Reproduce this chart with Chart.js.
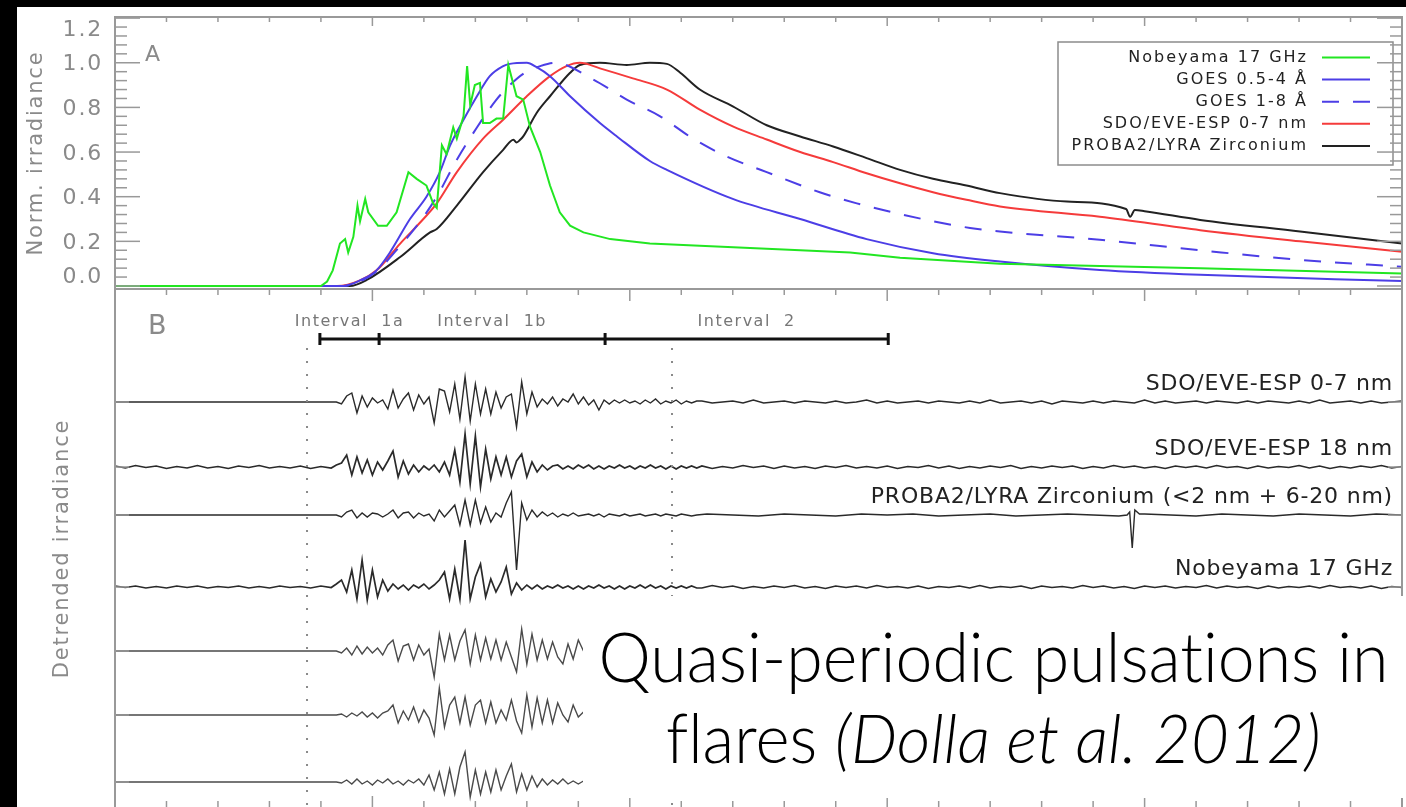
<!DOCTYPE html>
<html>
<head>
<meta charset="utf-8">
<script src="https://cdn.jsdelivr.net/npm/chart.js@4.4.1/dist/chart.umd.min.js"></script>
<style>
  html, body { margin: 0; padding: 0; background: #000; width: 1406px; height: 807px; overflow: hidden; }
  #sheet { position: absolute; left: 17px; top: 7px; width: 1389px; height: 800px; background: #fff; }
  canvas { position: absolute; left: 0; }
  #panelA { top: 0; }
  #panelB { top: 280px; }
  #caption { position: absolute; left: 583px; top: 596px; width: 823px; height: 202px; background: #fff;
             font-family: Lato, 'Open Sans', sans-serif; font-weight: 300; color: #000; z-index: 5;
             font-variant-ligatures: none; font-feature-settings: "liga" 0, "dlig" 0; }
  #caption .line { position: absolute; white-space: nowrap; font-size: 68px; line-height: 1; transform-origin: center; }
  #caption .probe { display: inline-block; width: 0; height: 0; vertical-align: baseline; }
</style>
</head>
<body>
<div id="sheet"></div>
<canvas id="panelA" width="1406" height="300"></canvas>
<canvas id="panelB" width="1406" height="550"></canvas>
<div id="caption">
  <div class="line" id="cap1">Quasi-periodic pulsations in<span class="probe"></span></div>
  <div class="line" id="cap2">flares <i>(Dolla et al. 2012)</i><span class="probe"></span></div>
</div>
<script>
// ---------------- Panel A: normalised irradiance, time in minutes ----------------
const nobeyama17 = [[0,0],[4.0,0],[4.12,0.02],[4.23,0.07],[4.37,0.19],[4.47,0.21],[4.53,0.15],[4.63,0.22],[4.71,0.36],
  [4.76,0.29],[4.86,0.39],[4.92,0.33],[5.11,0.27],[5.28,0.27],[5.47,0.33],[5.70,0.51],[5.86,0.48],[6.05,0.45],
  [6.18,0.37],[6.25,0.35],[6.35,0.63],[6.44,0.59],[6.57,0.71],[6.64,0.66],[6.77,0.76],[6.84,0.985],[6.90,0.81],
  [6.99,0.90],[7.09,0.91],[7.15,0.73],[7.28,0.73],[7.41,0.75],[7.54,0.75],[7.64,0.99],[7.80,0.85],[7.93,0.835],
  [8.06,0.715],[8.26,0.60],[8.45,0.45],[8.64,0.33],[8.84,0.27],[9.10,0.24],[9.62,0.21],[10.39,0.19],[11.36,0.18],
  [13.31,0.16],[14.28,0.15],[15.25,0.126],[17.19,0.10],[21.08,0.08],[25,0.056]];
const goesShort = [[0,0],[4.43,0],[4.76,0.025],[5.08,0.07],[5.34,0.15],[5.73,0.30],[6.05,0.40],[6.31,0.51],[6.51,0.63],
  [6.77,0.745],[7.03,0.85],[7.28,0.94],[7.54,0.985],[7.67,0.995],[8.0,1.0],[8.19,0.98],[8.45,0.94],[8.84,0.85],
  [9.42,0.73],[9.75,0.67],[10.39,0.56],[10.72,0.52],[12.0,0.39],[13.31,0.30],[14.60,0.21],[15.89,0.147],
  [17.19,0.11],[19.13,0.072],[21.08,0.05],[25,0.022]];
const goesLong = [[0,0],[4.43,0],[4.76,0.02],[5.08,0.065],[5.54,0.18],[5.93,0.29],[6.25,0.40],[6.64,0.566],[7.03,0.71],
  [7.41,0.835],[7.67,0.90],[7.96,0.955],[8.26,0.985],[8.55,1.0],[9.29,0.925],[9.94,0.835],[10.59,0.76],[11.23,0.66],
  [11.88,0.58],[12.66,0.51],[13.69,0.42],[14.41,0.37],[15.11,0.33],[15.89,0.29],[16.61,0.26],[17.19,0.244],
  [19.13,0.207],[21.08,0.16],[23.02,0.117],[25,0.086]];
const eveEsp07 = [[0,0],[4.31,0],[4.76,0.025],[5.08,0.07],[5.54,0.19],[5.99,0.30],[6.25,0.37],[6.64,0.51],[7.15,0.66],
  [7.54,0.745],[8.0,0.85],[8.45,0.94],[8.77,0.985],[9.03,1.0],[9.42,0.975],[10.06,0.93],[10.72,0.88],[11.36,0.79],
  [12.0,0.715],[12.66,0.656],[13.31,0.60],[13.95,0.555],[14.60,0.505],[15.25,0.46],[15.89,0.42],[16.54,0.386],
  [17.19,0.356],[19.13,0.31],[21.08,0.25],[23.02,0.2],[25,0.153]];
const lyraZr = [[0,0],[4.56,0],[4.89,0.027],[5.54,0.13],[6.12,0.24],[6.25,0.255],[6.64,0.36],[7.15,0.51],[7.54,0.61],
  [7.74,0.655],[7.80,0.643],[7.87,0.655],[7.93,0.67],[8.19,0.775],[8.45,0.85],[8.84,0.955],[9.03,0.99],[9.42,1.0],
  [9.94,0.99],[10.39,1.0],[10.72,0.995],[10.98,0.955],[11.36,0.88],[12.0,0.805],[12.66,0.72],[13.31,0.67],
  [13.95,0.625],[14.60,0.573],[15.25,0.52],[15.89,0.48],[16.54,0.45],[17.19,0.416],[18.49,0.378],[19.64,0.345],
  [19.72,0.31],[19.81,0.34],[20.0,0.335],[21.08,0.296],[23.02,0.244],[25,0.19]];

const seriesLabelsA = ['Nobeyama 17 GHz', 'GOES 0.5-4 Å', 'GOES 1-8 Å', 'SDO/EVE-ESP 0-7 nm', 'PROBA2/LYRA Zirconium'];
const irradianceTicks = [0, 0.2, 0.4, 0.6, 0.8, 1.0, 1.2];
const timeMajorTicks = [0, 5, 10, 15, 20, 25];

// ---------------- Panel B: detrended signals (arbitrary units) ----------------
const burstStart = 4.3, burstCadence = 0.1;
const quietCadence = 0.2, tailStart = 11.4;
const eve07Burst = [0,-2,6,9,-11,6,-5,4,-1,2, -7,12,-6,3,9,-8,7,-2,5,-21, 13,11,-10,18,-17,25,-19,18,-12,13,
  -12,10,-6,5,8,-25,20,-12,10,-5, 3,-2,5,-4,3,0,8,-2,5,-3, 2,-8,2,-2,2,-1,2,-1,1,-2, 2,-1,3,-2,1,-1,2,-2,1,-1,1];
const eve07Tail = [1,-1,0,1,-1,2,-1,0,1,-1, 1,0,-1,1,-1,0,2,-1,1,-1, 0,1,-1,1,0,-1,1,-1,2,-1, 0,1,-1,1,-2,1,0,-1,1,-1,
  1,0,-1,2,-1,1,-1,0,1,-1, 1,0,-1,1,-1,1,0,-1,1,-1, 2,-1,0,1,-1,1,-1,0,1];
const eve18Lead = [1,-1,1.5,-0.5,1,-1.5,0.5,-1,1.5,-1,0.5,-1.5,1,-0.5,1.5,-1,0.5,-1,1,-1.5,0.5,-1];
const eve18Burst = [2,4,12,-8,10,-6,7,-8,5,-3, 6,16,-10,6,-7,2,-5,1,-3,2, -5,5,-8,17,-15,33,-17,31,-20,18,
  -12,10,-8,10,-10,6,13,-10,5,-5, 2,-3,1,2,-2,1,-2,2,-1,2, -2,1,-2,1,-1,2,-1,1,-2,1, -1,2,-1,1,-2,1,-2,1,-1,1,-1];
const eve18Tail = [1,-1.5,0.5,-1,1.5,-0.5,1,-1.5,1,-1, 0.5,-1.5,1,-0.5,1.5,-1,0.5,-1,1,-1.5, 0.5,-0.5,1.5,-1,1,-1.5,0.5,-1,1,-0.5,
  1.5,-1.5,0.5,-1,1,-0.5,1,-1.5,0.5,-1, 1.5,-0.5,1,-1,0.5,-1.5,1,-0.5,1,-1, 1.5,-0.5,0.5,-1.5,1,-1,0.5,-0.5,1.5,-1,
  1,-1.5,0.5,-1,1,-0.5,1.5,-1,0.5];
const lyraBurst = [0,-2,3,5,-3,2,-2,2,1,-2, 1,5,-3,2,3,-3,2,-1,1,-6, 5,-2,4,10,-10,15,-10,15,-8,8,
  -7,2,-2,12,23,-55,12,-5,5,-2, 3,-1,2,-2,1,-1,2,-1,0,1, -1,1,-2,1,0,-1,1,-1,0,1, -1,0,1,-1,1,0,-1,1,0,-1,0];
const lyraTailStart = 11.5, lyraTailCadence = 0.5;
const lyraTail = [1,0,-1,1,0,-1,1,0,1,-1,0,1,-1,0,1,0,-1,1,0,-1,1,0,-1,1,0,-1,1,0];
const lyraGlitch = [[19.66,0],[19.71,3],[19.76,-33],[19.81,5],[19.9,1]];
const nobeLead = [1,-0.5,1,-1,0.5,-1,1,-0.5,1,-1,0.5,-0.5,1,-1,0.5,-1,1,-0.5,0.5,-1,1,-0.5];
const nobeBurst = [3,7,-5,17,-12,27,-13,17,-10,7, -4,3,-2,2,-3,2,-1,3,-2,2, 7,15,-12,18,-12,47,-12,10,23,-10,
  8,-5,5,20,-7,4,-3,2,-2,2, -2,1,-1,2,-1,1,-2,1,-2,1, -1,2,-1,1,-2,1,-2,1,-1,2, -1,2,-1,1,-2,1,-1,1,-1,1,-1];
const nobeTail = [-1,1.5,-0.5,1,-1.5,0.5,-1,1,-0.5,1.5, -1,0.5,-1.5,1,-0.5,1,-1,1.5,-0.5,0.5, -1,1,-1.5,0.5,-0.5,1,-1,1.5,-1,0.5,
  -0.5,1,-1.5,1,-0.5,0.5,-1,1.5,-0.5,1, -1,0.5,-1.5,1,-0.5,1,-1,0.5,-0.5,1.5, -1,1,-0.5,0.5,-1.5,1,-1,0.5,-0.5,1,
  -1,1.5,-0.5,0.5,-1,1,-1.5,0.5,-0.5];
const lowerBurst5 = [0,-2,3,-4,5,-3,4,-2,3,-4, 6,11,-10,5,7,-9,6,-4,2,-26, 17,-9,16,-9,10,21,-13,16,-9,13,
  -8,11,-9,9,-6,-21,22,-13,17,-9, 11,-8,9,-6,-13,7,-8,11,0];
const lowerBurst6 = [0,1,-2,2,-1,3,-2,2,-3,2, 4,10,-8,4,-5,8,-7,5,-3,-20, 27,-12,10,18,-8,18,-10,10,15,-8,
  13,-8,5,-5,15,-6,-18,20,-12,17, -8,15,-8,12,0,-7,10,-2,3];
const lowerBurst7 = [0,-1,2,-2,3,-2,1,-3,2,-1, 3,-2,1,-3,2,-1,3,-3,7,-8, 10,-12,13,-12,15,30,-15,12,-12,10,
  -10,12,-8,6,18,-10,8,-8,6,-5, 3,-3,2,-2,3,-2,1,-2,1];

const traceLabels = ['SDO/EVE-ESP 0-7 nm', 'SDO/EVE-ESP 18 nm', 'PROBA2/LYRA Zirconium (<2 nm + 6-20 nm)', 'Nobeyama 17 GHz', '', '', ''];
const traceBaselines = [406, 341, 293, 221, 157, 93, 26];
const intervalEdges = [3.98, 5.13, 9.52, 15.02];
const intervalNames = ['Interval  1a', 'Interval  1b', 'Interval  2'];
const markerTimes = [3.73, 10.82];

// ---------------- helpers ----------------
const FONT = "'DejaVu Sans', 'Liberation Sans', sans-serif";
const pairs = arr => arr.map(([x, y]) => ({ x, y }));
const sampled = (start, step, values) => values.map((v, i) => ({ x: +(start + i * step).toFixed(3), y: v }));
const quiet = [{ x: 0, y: 0 }];
const stackTrace = (base, parts) => parts.flat().sort((a, b) => a.x - b.x).map(p => ({ x: p.x, y: base + p.y }));

const detrended = [
  stackTrace(traceBaselines[0], [quiet, sampled(burstStart, burstCadence, eve07Burst), sampled(tailStart, quietCadence, eve07Tail)]),
  stackTrace(traceBaselines[1], [sampled(0, quietCadence, eve18Lead), sampled(burstStart, burstCadence, eve18Burst), sampled(tailStart, quietCadence, eve18Tail)]),
  stackTrace(traceBaselines[2], [quiet, sampled(burstStart, burstCadence, lyraBurst), sampled(lyraTailStart, lyraTailCadence, lyraTail), pairs(lyraGlitch)]),
  stackTrace(traceBaselines[3], [sampled(0, quietCadence, nobeLead), sampled(burstStart, burstCadence, nobeBurst), sampled(tailStart, quietCadence, nobeTail)]),
  stackTrace(traceBaselines[4], [quiet, sampled(burstStart, burstCadence, lowerBurst5)]),
  stackTrace(traceBaselines[5], [quiet, sampled(burstStart, burstCadence, lowerBurst6)]),
  stackTrace(traceBaselines[6], [quiet, sampled(burstStart, burstCadence, lowerBurst7)])
];

const timeMinorTicks = [];
for (let m = 1; m < 25; m++) if (m % 5) timeMinorTicks.push(m);
const irradianceMinor = [];
for (let k = 1; k < 30; k++) if (k % 5) irradianceMinor.push(+(k * 0.04).toFixed(2));

function seg(ctx, x1, y1, x2, y2) { ctx.beginPath(); ctx.moveTo(x1, y1); ctx.lineTo(x2, y2); ctx.stroke(); }

// fixed-width vertical axis with no extra overflow padding from its labels
const fixedAxis = width => s => { s.width = width; s.paddingTop = 0; s.paddingBottom = 0; };

// end labels are nudged inside the frame, as IDL does
function irradianceLabel(v) {
  if (v === irradianceTicks[irradianceTicks.length - 1]) return ['', v.toFixed(1)];
  if (v === irradianceTicks[0]) return [v.toFixed(1), ''];
  return v.toFixed(1);
}

// IDL-style spacing for all library-drawn text
const idlText = { id: 'idlText', beforeDraw(chart, args, o) { chart.ctx.letterSpacing = o.spacing || '0px'; } };

// Box frame with inward ticks on every side
const idlFrame = {
  id: 'idlFrame',
  afterDraw(chart, args, o) {
    const { ctx, chartArea: a, scales: { x, y } } = chart;
    ctx.save();
    ctx.strokeStyle = o.color; ctx.lineWidth = o.tickWidth; ctx.setLineDash([]);
    for (const [side, spec] of Object.entries(o.sides)) {
      for (const [vals, len] of [[spec.major || [], spec.majorLen], [spec.minor || [], spec.minorLen]]) {
        for (const v of vals) {
          if (side === 'top' || side === 'bottom') {
            const px = x.getPixelForValue(v), y0 = side === 'top' ? a.top : a.bottom, d = side === 'top' ? 1 : -1;
            seg(ctx, px, y0, px, y0 + d * len);
          } else {
            const py = y.getPixelForValue(v), x0 = side === 'left' ? a.left : a.right, d = side === 'left' ? 1 : -1;
            seg(ctx, x0, py, x0 + d * len, py);
          }
        }
      }
    }
    ctx.lineWidth = o.width;
    ctx.strokeRect(a.left, a.top, a.right - a.left, a.bottom - a.top);
    ctx.restore();
  }
};

const panelLetter = {
  id: 'panelLetter',
  afterDraw(chart, args, o) {
    const { ctx } = chart;
    ctx.save();
    ctx.letterSpacing = '0px';
    ctx.font = `${o.size}px ${FONT}`; ctx.fillStyle = o.color; ctx.textAlign = 'left'; ctx.textBaseline = 'middle';
    ctx.fillText(o.text, o.x, o.y);
    ctx.restore();
  }
};

// Legend box in the upper right of panel A
const fluxLegend = {
  id: 'fluxLegend',
  afterDatasetsDraw(chart, args, o) {
    const { ctx } = chart;
    ctx.save();
    ctx.fillStyle = '#fff';
    ctx.fillRect(o.left, o.top, o.right - o.left, o.bottom - o.top);
    ctx.strokeStyle = o.borderColor; ctx.lineWidth = 1.5;
    ctx.strokeRect(o.left, o.top, o.right - o.left, o.bottom - o.top);
    ctx.font = `${o.size}px ${FONT}`; ctx.letterSpacing = o.spacing;
    ctx.textAlign = 'right'; ctx.textBaseline = 'middle';
    chart.data.datasets.forEach((ds, i) => {
      const yy = o.firstRow + i * o.rowGap;
      ctx.fillStyle = o.textColor;
      ctx.fillText(ds.label, o.textRight, yy);
      ctx.strokeStyle = ds.borderColor; ctx.lineWidth = ds.borderWidth;
      ctx.setLineDash(ds.borderDash || []);
      seg(ctx, o.lineFrom, yy, o.lineTo, yy);
      ctx.setLineDash([]);
    });
    ctx.restore();
  }
};

// Interval bars, marker lines and trace names in panel B
const detrendNotes = {
  id: 'detrendNotes',
  afterDatasetsDraw(chart, args, o) {
    const { ctx, chartArea: a, scales: { x, y } } = chart;
    ctx.save();
    ctx.strokeStyle = o.markerColor; ctx.lineWidth = 2; ctx.setLineDash([2, 11]);
    markerTimes.forEach(t => { const px = x.getPixelForValue(t); seg(ctx, px, o.markerTop, px, a.bottom); });
    ctx.setLineDash([]);
    ctx.strokeStyle = '#111'; ctx.lineWidth = 3;
    seg(ctx, x.getPixelForValue(intervalEdges[0]), o.barY, x.getPixelForValue(intervalEdges[intervalEdges.length - 1]), o.barY);
    intervalEdges.forEach(t => { const px = x.getPixelForValue(t); seg(ctx, px, o.barY - 6, px, o.barY + 6); });
    ctx.font = `${o.nameSize}px ${FONT}`; ctx.letterSpacing = o.nameSpacing;
    ctx.fillStyle = o.nameColor; ctx.textAlign = 'center'; ctx.textBaseline = 'middle';
    intervalNames.forEach((n, i) => ctx.fillText(n, x.getPixelForValue((intervalEdges[i] + intervalEdges[i + 1]) / 2), o.nameY));
    ctx.font = `${o.labelSize}px ${FONT}`; ctx.letterSpacing = o.labelSpacing;
    ctx.fillStyle = o.labelColor; ctx.textAlign = 'right';
    chart.data.datasets.forEach((ds, i) => {
      if (!ds.label) return;
      ctx.fillText(ds.label, o.labelRight, y.getPixelForValue(traceBaselines[i]) - o.labelLift);
    });
    ctx.restore();
  }
};

Chart.defaults.font.family = FONT;

const GREEN = '#22e622', BLUE = '#4c3ee6', RED = '#f53b3b', BLACK = '#222222';
const AXIS_GREY = '#999999', LABEL_GREY = '#8a8a8a';

const hiddenTimeAxis = () => ({
  type: 'linear', min: 0, max: 25,
  ticks: { display: false }, grid: { display: false, drawTicks: false }, border: { display: false },
  afterFit: s => { s.height = 0; s.paddingLeft = 0; s.paddingRight = 0; }
});

new Chart(document.getElementById('panelA'), {
  type: 'line',
  data: {
    datasets: [
      { label: seriesLabelsA[0], data: pairs(nobeyama17), borderColor: GREEN, borderWidth: 2, tension: 0 },
      { label: seriesLabelsA[1], data: pairs(goesShort), borderColor: BLUE, borderWidth: 2, cubicInterpolationMode: 'monotone' },
      { label: seriesLabelsA[2], data: pairs(goesLong), borderColor: BLUE, borderWidth: 2, borderDash: [17, 14], cubicInterpolationMode: 'monotone' },
      { label: seriesLabelsA[3], data: pairs(eveEsp07), borderColor: RED, borderWidth: 2, cubicInterpolationMode: 'monotone' },
      { label: seriesLabelsA[4], data: pairs(lyraZr), borderColor: BLACK, borderWidth: 2, cubicInterpolationMode: 'monotone' }
    ]
  },
  options: {
    animation: false, responsive: false, devicePixelRatio: 1, events: [],
    elements: { point: { radius: 0 } },
    layout: { autoPadding: false, padding: { top: 17, right: 4, bottom: 11, left: 0 } },
    plugins: {
      legend: { display: false }, tooltip: { enabled: false },
      idlText: { spacing: '1.8px' },
      idlFrame: {
        color: AXIS_GREY, width: 2, tickWidth: 1.5,
        sides: {
          left: { major: irradianceTicks, majorLen: 25, minor: irradianceMinor, minorLen: 12 },
          right: { major: irradianceTicks, majorLen: 25, minor: irradianceMinor, minorLen: 12 },
          top: { major: timeMajorTicks, majorLen: 9, minor: timeMinorTicks, minorLen: 5 }
        }
      },
      fluxLegend: {
        left: 1058, right: 1393, top: 42, bottom: 165, borderColor: '#8c8c8c',
        size: 16, spacing: '2px', textColor: '#222', textRight: 1308,
        firstRow: 57.5, rowGap: 22.1, lineFrom: 1322, lineTo: 1370
      },
      panelLetter: { text: 'A', x: 145, y: 55, size: 22, color: LABEL_GREY }
    },
    scales: {
      x: hiddenTimeAxis(),
      y: {
        min: -0.0135, max: 1.205,
        afterBuildTicks: s => { s.ticks = irradianceTicks.map(v => ({ value: v })); },
        afterFit: fixedAxis(115),
        grid: { display: false, drawTicks: false }, border: { display: false },
        ticks: {
          color: LABEL_GREY, padding: 12, labelOffset: 2, autoSkip: false,
          font: { size: 22, lineHeight: 0.95 },
          callback: irradianceLabel
        },
        title: { display: true, text: 'Norm. irradiance', color: LABEL_GREY, font: { size: 21 }, padding: { top: 24, bottom: 0 } }
      }
    }
  },
  plugins: [idlText, fluxLegend, idlFrame, panelLetter]
});

new Chart(document.getElementById('panelB'), {
  type: 'line',
  data: {
    datasets: detrended.map((pts, i) => ({
      label: traceLabels[i], data: pts, borderColor: i < 4 ? '#2a2a2a' : '#4a4a4a',
      borderWidth: (i === 1 || i === 3) ? 1.7 : 1.4, tension: 0
    }))
  },
  options: {
    animation: false, responsive: false, devicePixelRatio: 1, events: [],
    elements: { point: { radius: 0 } },
    layout: { autoPadding: false, padding: { top: 9, right: 4, bottom: 22, left: 0 } },
    plugins: {
      legend: { display: false }, tooltip: { enabled: false },
      idlText: { spacing: '1.8px' },
      idlFrame: {
        color: AXIS_GREY, width: 2, tickWidth: 1.5,
        sides: {
          top: { major: timeMajorTicks, majorLen: 12, minor: timeMinorTicks, minorLen: 6 },
          bottom: { major: timeMajorTicks, majorLen: 12, minor: timeMinorTicks, minorLen: 7 },
          left: { major: traceBaselines, majorLen: 14 },
          right: { major: traceBaselines, majorLen: 14 }
        }
      },
      detrendNotes: {
        markerColor: '#8a8a8a', markerTop: 68, barY: 59,
        nameSize: 16, nameSpacing: '1.5px', nameColor: '#777', nameY: 42,
        labelSize: 22, labelSpacing: '0.8px', labelColor: '#222', labelRight: 1393, labelLift: 18
      },
      panelLetter: { text: 'B', x: 148, y: 47, size: 27, color: LABEL_GREY }
    },
    scales: {
      x: hiddenTimeAxis(),
      y: {
        min: 0, max: 519,
        afterBuildTicks: s => { s.ticks = traceBaselines.map(v => ({ value: v })); },
        afterFit: fixedAxis(115),
        grid: { display: false, drawTicks: false }, border: { display: false },
        ticks: { display: false },
        title: { display: true, text: 'Detrended irradiance', color: LABEL_GREY, font: { size: 21 }, padding: { top: 50, bottom: 0 } }
      }
    }
  },
  plugins: [idlText, detrendNotes, idlFrame, panelLetter]
});

// Caption lines: centred, squeezed horizontally to the condensed face width
const captionLines = [
  { id: 'cap1', width: 790, center: 993, baseline: 682 },
  { id: 'cap2', width: 655, center: 993, baseline: 763 }
];
function layoutCaption() {
  const box = document.getElementById('caption').getBoundingClientRect();
  captionLines.forEach(c => {
    const el = document.getElementById(c.id);
    el.style.transform = 'none'; el.style.left = '0px'; el.style.top = '0px';
    const w = el.offsetWidth;
    const base = el.querySelector('.probe').offsetTop;
    el.style.left = (c.center - box.left - w / 2) + 'px';
    el.style.top = (c.baseline - box.top - base) + 'px';
    el.style.transform = `scaleX(${c.width / w})`;
  });
}
layoutCaption();
if (document.fonts && document.fonts.ready) document.fonts.ready.then(layoutCaption);
</script>
</body>
</html>
